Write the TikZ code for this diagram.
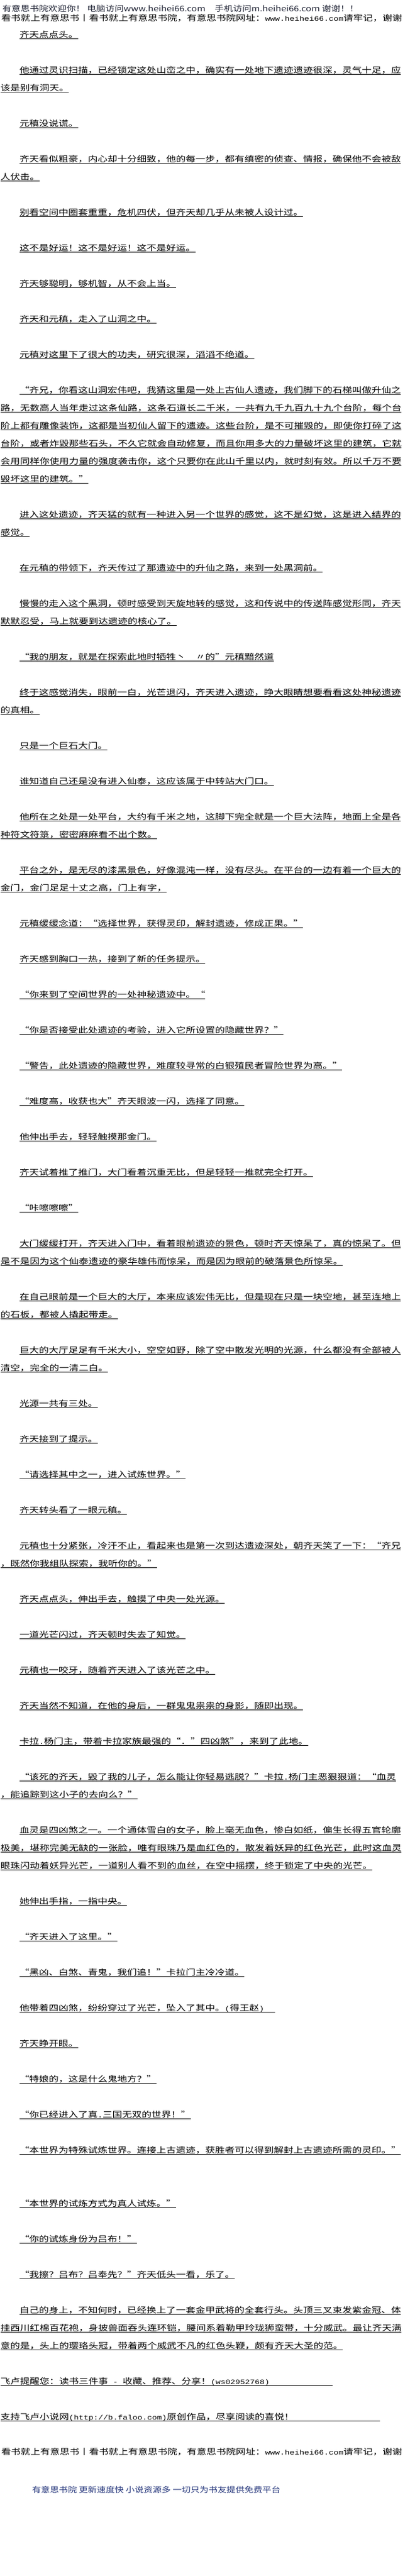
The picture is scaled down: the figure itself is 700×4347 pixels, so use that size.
\documentclass[tikz,border=0pt]{standalone}
\usepackage{fontspec}
\setmainfont{Noto Sans CJK SC}
\newfontfamily\monof{Liberation Mono}
\usepackage{graphicx}
\definecolor{hdcol}{HTML}{1E2233}
\definecolor{bluecol}{HTML}{23347A}
\newcommand\asc[1]{{\monof\fontsize{11.25}{12}\selectfont #1}}
\tikzset{
  tx/.style={anchor=base west,inner sep=0pt,outer sep=0pt,font=\fontsize{13.5}{16}\selectfont},
  ul/.style={line width=0.9pt,black},
  hd/.style={anchor=base west,inner sep=0pt,outer sep=0pt,text=hdcol,font=\fontsize{13}{15}\selectfont},
  bl/.style={anchor=base west,inner sep=0pt,outer sep=0pt,text=bluecol,font=\fontsize{13}{15}\selectfont}
}
\newcommand\pline[4]{\node[tx] (#1) at (#2,{2-#3}) {\scalebox{1.222}[1]{#4}};
\draw[ul] ([yshift=-2pt]#1.base west) -- ([yshift=-2pt]#1.base east);}
\newcommand\plain[4]{\node[tx] (#1) at (#2,{-#3}) {\scalebox{1.222}[1]{#4}};}
\begin{document}
\begin{tikzpicture}[x=1pt,y=1pt]
\useasboundingbox (0,0) rectangle (700,-4347);
\fill[white] (0,0) rectangle (700,-4347);
\node[hd] (h1) at (4,-19) {\resizebox{601pt}{\height}{有意思书院欢迎你！ 电脑访问www.heihei66.com\quad 手机访问m.heihei66.com 谢谢！！}};
\plain{h2}{2}{35}{看书就上有意思书丨看书就上有意思书院，有意思书院网址：\asc{www.heihei66.com}请牢记，谢谢}
\pline{p1}{33}{65}{齐天点点头。}
\pline{p2}{33}{125}{他通过灵识扫描，已经锁定这处山峦之中，确实有一处地下遗迹遗迹很深，灵气十足，应}
\pline{p3}{1}{155}{该是别有洞天。}
\pline{p4}{33}{215}{元稹没说谎。}
\pline{p5}{33}{275}{齐天看似粗豪，内心却十分细致，他的每一步，都有缜密的侦查、情报，确保他不会被敌}
\pline{p6}{1}{305}{人伏击。}
\pline{p7}{33}{365}{别看空间中圈套重重，危机四伏，但齐天却几乎从未被人设计过。}
\pline{p8}{33}{425}{这不是好运！这不是好运！这不是好运。}
\pline{p9}{33}{485}{齐天够聪明，够机智，从不会上当。}
\pline{p10}{33}{545}{齐天和元稹，走入了山洞之中。}
\pline{p11}{33}{605}{元稹对这里下了很大的功夫，研究很深，滔滔不绝道。}
\pline{p12}{33}{665}{“齐兄，你看这山洞宏伟吧，我猜这里是一处上古仙人遗迹，我们脚下的石梯叫做升仙之}
\pline{p13}{1}{695}{路，无数高人当年走过这条仙路，这条石道长二千米，一共有九千九百九十九个台阶，每个台}
\pline{p14}{1}{725}{阶上都有雕像装饰，这都是当初仙人留下的遗迹。这些台阶，是不可摧毁的，即使你打碎了这}
\pline{p15}{1}{755}{台阶，或者炸毁那些石头，不久它就会自动修复，而且你用多大的力量破坏这里的建筑，它就}
\pline{p16}{1}{785}{会用同样你使用力量的强度袭击你，这个只要你在此山千里以内，就时刻有效。所以千万不要}
\pline{p17}{1}{815}{毁坏这里的建筑。”}
\pline{p18}{33}{875}{进入这处遗迹，齐天猛的就有一种进入另一个世界的感觉，这不是幻觉，这是进入结界的}
\pline{p19}{1}{905}{感觉。}
\pline{p20}{33}{965}{在元稹的带领下，齐天传过了那遗迹中的升仙之路，来到一处黑洞前。}
\pline{p21}{33}{1025}{慢慢的走入这个黑洞，顿时感受到天旋地转的感觉，这和传说中的传送阵感觉形同，齐天}
\pline{p22}{1}{1055}{默默忍受，马上就要到达遗迹的核心了。}
\pline{p23}{33}{1115}{“我的朋友，就是在探索此地时牺牲丶　〃的”元稹黯然道}
\pline{p24}{33}{1175}{终于这感觉消失，眼前一白，光芒退闪，齐天进入遗迹，睁大眼睛想要看看这处神秘遗迹}
\pline{p25}{1}{1205}{的真相。}
\pline{p26}{33}{1265}{只是一个巨石大门。}
\pline{p27}{33}{1325}{谁知道自己还是没有进入仙泰，这应该属于中转站大门口。}
\pline{p28}{33}{1385}{他所在之处是一处平台，大约有千米之地，这脚下完全就是一个巨大法阵，地面上全是各}
\pline{p29}{1}{1415}{种符文符箓，密密麻麻看不出个数。}
\pline{p30}{33}{1475}{平台之外，是无尽的漆黑景色，好像混沌一样，没有尽头。在平台的一边有着一个巨大的}
\pline{p31}{1}{1505}{金门，金门足足十丈之高，门上有字，}
\pline{p32}{33}{1565}{元稹缓缓念道：“选择世界，获得灵印，解封遗迹，修成正果。”}
\pline{p33}{33}{1625}{齐天感到胸口一热，接到了新的任务提示。}
\pline{p34}{33}{1685}{“你来到了空间世界的一处神秘遗迹中。“}
\pline{p35}{33}{1745}{“你是否接受此处遗迹的考验，进入它所设置的隐藏世界？”}
\pline{p36}{33}{1805}{“警告，此处遗迹的隐藏世界，难度较寻常的白银殖民者冒险世界为高。”}
\pline{p37}{33}{1865}{“难度高，收获也大”齐天眼波一闪，选择了同意。}
\pline{p38}{33}{1925}{他伸出手去，轻轻触摸那金门。}
\pline{p39}{33}{1985}{齐天试着推了推门，大门看着沉重无比，但是轻轻一推就完全打开。}
\pline{p40}{33}{2045}{“咔嚓嚓嚓”}
\pline{p41}{33}{2105}{大门缓缓打开，齐天进入门中，看着眼前遗迹的景色，顿时齐天惊呆了，真的惊呆了。但}
\pline{p42}{1}{2135}{是不是因为这个仙泰遗迹的豪华雄伟而惊呆，而是因为眼前的破落景色所惊呆。}
\pline{p43}{33}{2195}{在自己眼前是一个巨大的大厅，本来应该宏伟无比，但是现在只是一块空地，甚至连地上}
\pline{p44}{1}{2225}{的石板，都被人撬起带走。}
\pline{p45}{33}{2285}{巨大的大厅足足有千米大小，空空如野，除了空中散发光明的光源，什么都没有全部被人}
\pline{p46}{1}{2315}{清空，完全的一清二白。}
\pline{p47}{33}{2375}{光源一共有三处。}
\pline{p48}{33}{2435}{齐天接到了提示。}
\pline{p49}{33}{2495}{“请选择其中之一，进入试炼世界。”}
\pline{p50}{33}{2555}{齐天转头看了一眼元稹。}
\pline{p51}{33}{2615}{元稹也十分紧张，冷汗不止，看起来也是第一次到达遗迹深处，朝齐天笑了一下：“齐兄}
\pline{p52}{1}{2645}{，既然你我组队探索，我听你的。”}
\pline{p53}{33}{2705}{齐天点点头，伸出手去，触摸了中央一处光源。}
\pline{p54}{33}{2765}{一道光芒闪过，齐天顿时失去了知觉。}
\pline{p55}{33}{2825}{元稹也一咬牙，随着齐天进入了该光芒之中。}
\pline{p56}{33}{2885}{齐天当然不知道，在他的身后，一群鬼鬼祟祟的身影，随即出现。}
\pline{p57}{33}{2945}{卡拉\asc{.}杨门主，带着卡拉家族最强的“．”四凶煞”，来到了此地。}
\pline{p58}{33}{3005}{“该死的齐天，毁了我的儿子，怎么能让你轻易逃脱？”卡拉\asc{.}杨门主恶狠狠道：“血灵}
\pline{p59}{1}{3035}{，能追踪到这小子的去向么？”}
\pline{p60}{33}{3095}{血灵是四凶煞之一。一个通体雪白的女子，脸上毫无血色，惨白如纸，偏生长得五官轮廓}
\pline{p61}{1}{3125}{极美，堪称完美无缺的一张脸，唯有眼珠乃是血红色的，散发着妖异的红色光芒，此时这血灵}
\pline{p62}{1}{3155}{眼珠闪动着妖异光芒，一道别人看不到的血丝，在空中摇摆，终于锁定了中央的光芒。}
\pline{p63}{33}{3215}{她伸出手指，一指中央。}
\pline{p64}{33}{3275}{“齐天进入了这里。”}
\pline{p65}{33}{3335}{“黑凶、白煞、青鬼，我们追！”卡拉门主冷冷道。}
\pline{p66}{33}{3395}{他带着四凶煞，纷纷穿过了光芒，坠入了其中。\asc{(}得王赵\asc{)}\hspace*{15pt}}
\pline{p67}{33}{3455}{齐天睁开眼。}
\pline{p68}{33}{3515}{“特娘的，这是什么鬼地方？”}
\pline{p69}{33}{3575}{“你已经进入了真\asc{.}三国无双的世界！”}
\pline{p70}{33}{3635}{“本世界为特殊试炼世界。连接上古遗迹，获胜者可以得到解封上古遗迹所需的灵印。”}
\pline{p71}{33}{3725}{“本世界的试炼方式为真人试炼。”}
\pline{p72}{33}{3785}{“你的试炼身份为吕布！”}
\pline{p73}{33}{3845}{“我擦？吕布？吕奉先？”齐天低头一看，乐了。}
\pline{p74}{33}{3905}{自己的身上，不知何时，已经换上了一套金甲武将的全套行头。头顶三叉束发紫金冠、体}
\pline{p75}{1}{3935}{挂西川红棉百花袍，身披兽面吞头连环铠，腰间系着勒甲玲珑狮蛮带，十分威武。最让齐天满}
\pline{p76}{1}{3965}{意的是，头上的璎珞头冠，带着两个威武不凡的红色头鞭，颇有齐天大圣的范。}
\pline{p77}{1}{4025}{飞卢提醒您：读书三件事\asc{ - }收藏、推荐、分享！\asc{(ws02952768)}\hspace*{87pt}}
\pline{p78}{1}{4085}{支持飞卢小说网\asc{(http://b.faloo.com)}原创作品，尽享阅读的喜悦！\hspace*{119pt}}
\plain{h3}{2}{4142}{看书就上有意思书丨看书就上有意思书院，有意思书院网址：\asc{www.heihei66.com}请牢记，谢谢}
\node[bl] (h4) at (54,-4206) {\resizebox{419pt}{\height}{有意思书院 更新速度快 小说资源多 一切只为书友提供免费平台}};
\end{tikzpicture}
\end{document}
